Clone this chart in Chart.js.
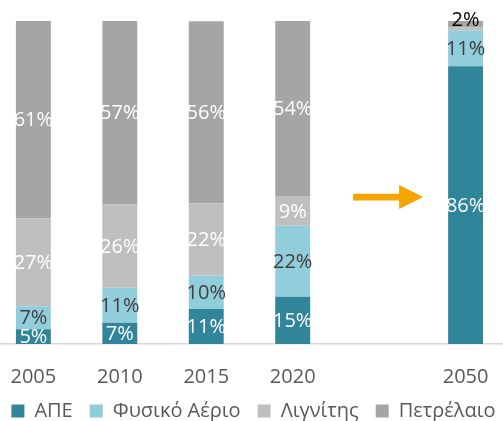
<!DOCTYPE html>
<html><head><meta charset="utf-8">
<script src="https://cdn.jsdelivr.net/npm/chart.js@4.4.0/dist/chart.umd.min.js"></script>
<style>html,body{margin:0;padding:0;background:#fff;overflow:hidden;width:503px;height:421px;position:relative}
#c{position:absolute;left:-11px;top:0}</style>
</head><body>
<canvas id="c" width="529" height="431"></canvas>
<script>
const categories = ['2005', '2010', '2015', '2020', '', '2050'];
const seriesNames = ['ΑΠΕ', 'Φυσικό Αέριο', 'Λιγνίτης', 'Πετρέλαιο'];
const ape     = [4.6, 6.6, 10.8, 14.6, null, 86.0];
const gas     = [7.1, 10.8, 10.3, 22.0, null, 11.0];
const lignite = [27.2, 25.8, 22.4, 9.2, null, 1.0];
const oil     = [61.1, 56.8, 56.4, 54.2, null, 2.0];
const arrowLevel = 45.5;

const colors = ['#31859B', '#92CDDC', '#BFBFBF', '#A5A5A5'];
const labelColors = ['#FFFFFF', '#404040', '#FFFFFF', '#FFFFFF'];
const FONT = '"Open Sans", "Noto Sans", sans-serif';

const labelPlugin = {
  id: 'segLabels',
  afterDatasetsDraw(chart) {
    const ctx = chart.ctx;
    ctx.save();
    ctx.font = '20px ' + FONT;
    ctx.textAlign = 'center';
    ctx.textBaseline = 'middle';
    chart.data.datasets.forEach((ds, i) => {
      const meta = chart.getDatasetMeta(i);
      meta.data.forEach((bar, j) => {
        const v = ds.data[j];
        if (v == null || v < 1.5) return;
        const top = Math.min(bar.y, bar.base), bot = Math.max(bar.y, bar.base);
        const h = bot - top;
        const txt = Math.round(v) + '%';
        if (h < 14) {
          ctx.fillStyle = '#000000';
          ctx.fillText(txt, bar.x, top - 1);
        } else {
          ctx.fillStyle = labelColors[i];
          ctx.fillText(txt, bar.x, (top + bot) / 2 + 1);
        }
      });
    });
    ctx.restore();
  }
};

const arrowPlugin = {
  id: 'arrow',
  afterDatasetsDraw(chart) {
    const ctx = chart.ctx;
    const cx = chart.scales.x.getPixelForValue(4);
    const cy = chart.scales.y.getPixelForValue(arrowLevel);
    ctx.save();
    ctx.fillStyle = '#F5A400';
    ctx.beginPath();
    ctx.moveTo(cx - 26, cy - 3.4);
    ctx.lineTo(cx + 20, cy - 3.4);
    ctx.lineTo(cx + 20, cy - 12);
    ctx.lineTo(cx + 44, cy);
    ctx.lineTo(cx + 20, cy + 12);
    ctx.lineTo(cx + 20, cy + 3.4);
    ctx.lineTo(cx - 26, cy + 3.4);
    ctx.closePath();
    ctx.fill();
    ctx.restore();
  }
};

const seriesData = [ape, gas, lignite, oil];
new Chart(document.getElementById('c'), {
  type: 'bar',
  data: {
    labels: categories,
    datasets: seriesNames.map((n, i) => ({
      label: n,
      data: seriesData[i],
      backgroundColor: colors[i],
      borderWidth: 0,
      categoryPercentage: 1,
      barPercentage: 0.404,
      clip: false
    }))
  },
  options: {
    responsive: false,
    animation: false,
    layout: { padding: { left: 0, right: 0, top: 21, bottom: 0 } },
    scales: {
      x: {
        stacked: true,
        offset: true,
        grid: { display: false, drawTicks: false },
        border: { display: true, color: '#D9D9D9', width: 1.5 },
        ticks: { color: '#595959', font: { family: FONT, size: 20 }, padding: 21.5, maxRotation: 0, autoSkip: false },
        afterFit(s) { s.height = 40; }
      },
      y: {
        stacked: true, min: 0, max: 100, display: false
      },
      y2: {
        type: 'linear', position: 'right', display: true,
        grid: { display: false }, border: { display: false }, ticks: { display: false },
        afterFit(s) { s.width = 9.2; }
      }
    },
    plugins: {
      legend: {
        position: 'bottom',
        labels: {
          color: '#595959', font: { family: FONT, size: 20 },
          boxWidth: 13, boxHeight: 13, padding: 17
        }
      },
      tooltip: { enabled: false }
    }
  },
  plugins: [labelPlugin, arrowPlugin]
});
</script>
</body></html>
